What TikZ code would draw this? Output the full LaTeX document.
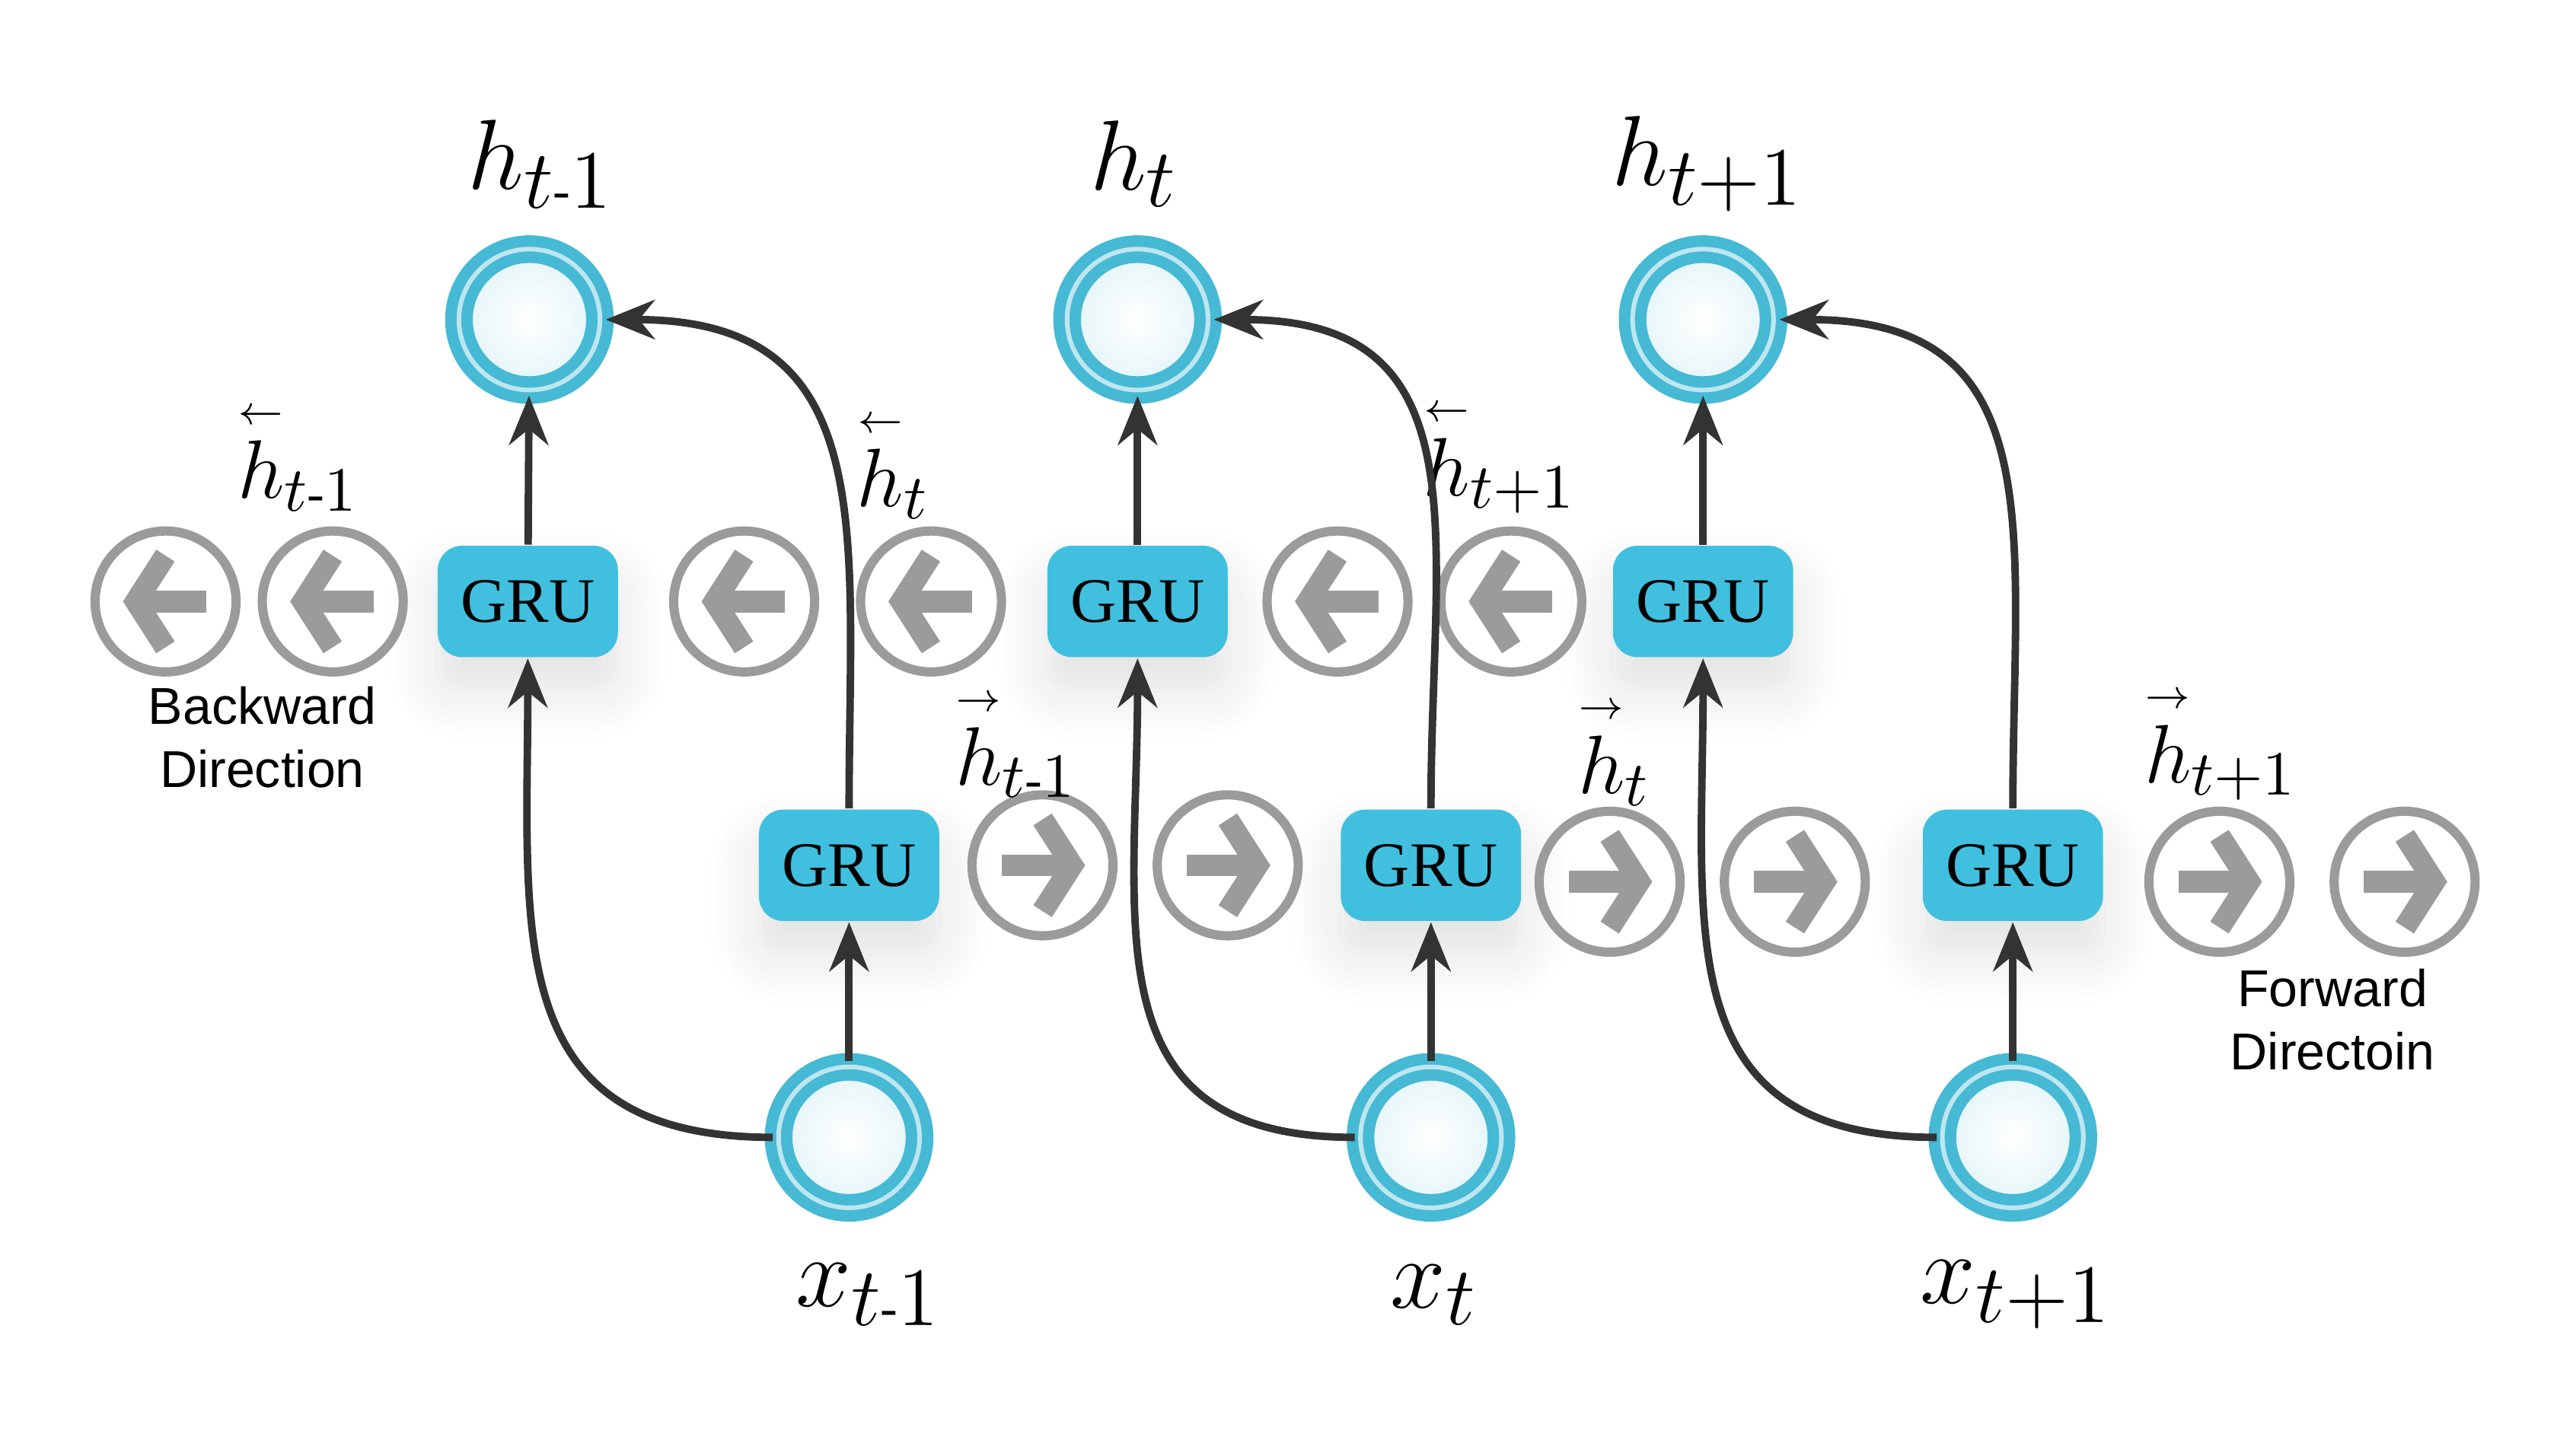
\documentclass[tikz,border=0pt]{standalone}
\usepackage{amsmath}
\usepackage{fontspec}
\setmainfont{Liberation Serif}
\newfontfamily\sansfont{Liberation Sans}
\usetikzlibrary{arrows.meta,shadows.blur}
\definecolor{grublue}{RGB}{64,192,222}
\definecolor{ringblue}{RGB}{70,185,212}
\definecolor{ringgray}{RGB}{155,155,155}
\newcommand{\mn}{\mbox{\fontsize{9}{9}\selectfont -}}
\newcommand{\lh}{\overset{\scriptscriptstyle\leftarrow}{h}}
\newcommand{\rh}{\overset{\scriptscriptstyle\rightarrow}{h}}
\begin{document}
\begin{tikzpicture}[x=1cm,y=-1cm]
    \tikzstyle{dedge} = [line width=1.3pt,-{Stealth[length=3mm,width=2.4mm]},draw=black!80]
    \tikzstyle{gru}=[
      rectangle,
      rounded corners=1.5mm,
      fill=grublue,
      minimum width=1.1cm,
      minimum height=0.68cm,
      font=\fontsize{11}{11}\selectfont,
      blur shadow={shadow xshift=0pt,shadow yshift=-2mm,shadow blur radius=3mm,shadow opacity=12,shadow blur steps=8},
    ]
    \tikzstyle{state}=[
      circle,
      minimum size=0.86cm,
      draw=ringblue,
      line width=2pt,
      double=ringblue!35,
      double distance=0.8pt,
      inner color=white,
      outer color=ringblue!15,
    ]
    \tikzstyle{hid}=[
      circle,
      minimum size=0.86cm,
      draw=ringgray,
      line width=1.6pt,
    ]
    \tikzstyle{chev}=[line width=3.8pt,draw=ringgray,line join=round,-{Straight Barb[length=1.8mm,width=5.6mm,line width=3.8pt]}]
    \tikzstyle{biglbl}=[font=\fontsize{19}{19}\selectfont]
    \tikzstyle{lbl}=[font=\fontsize{15}{15}\selectfont]
    \tikzstyle{dirlbl}=[font=\sansfont\fontsize{9}{11}\selectfont,align=center]

    \useasboundingbox (0,0) rectangle (15.6,8.884);

    % outputs
    \node[state] (h1) at (3.23,1.95) {};
    \node[state] (h2) at (6.94,1.95) {};
    \node[state] (h3) at (10.39,1.95) {};
    \node[biglbl] (lh1) at (3.30,1.00) {$h_{t\mn1}$};
    \node[biglbl] (lh2) at (6.92,1.00) {$h_{t}$};
    \node[biglbl] (lh3) at (10.42,1.00) {$h_{t+1}$};

    % inputs
    \node[state] (x1) at (5.18,6.94) {};
    \node[state] (x2) at (8.73,6.94) {};
    \node[state] (x3) at (12.28,6.94) {};
    \node[biglbl] (lx1) at (5.30,7.90) {$x_{t\mn1}$};
    \node[biglbl] (lx2) at (8.75,7.90) {$x_{t}$};
    \node[biglbl] (lx3) at (12.30,7.90) {$x_{t+1}$};

    % backward GRUs
    \node[gru] (gb1) at (3.22,3.67) {GRU};
    \node[gru] (gb2) at (6.94,3.67) {GRU};
    \node[gru] (gb3) at (10.39,3.67) {GRU};

    % forward GRUs
    \node[gru] (gf1) at (5.18,5.28) {GRU};
    \node[gru] (gf2) at (8.73,5.28) {GRU};
    \node[gru] (gf3) at (12.28,5.28) {GRU};

    % backward states
    \foreach \i/\x in {1/1.01,2/2.03,3/4.54,4/5.68,5/8.16,6/9.22} {
      \node[hid] (b\i) at (\x,3.67) {};
      \draw[chev] ([xshift=2.5mm]b\i.center) -- ([xshift=-2.6mm]b\i.center);
    }
    % forward states
    \foreach \i/\x/\y in {1/6.36/5.28,2/7.49/5.28,3/9.82/5.38,4/10.95/5.38,5/13.54/5.38,6/14.67/5.38} {
      \node[hid] (f\i) at (\x,\y) {};
      \draw[chev] ([xshift=-2.5mm]f\i.center) -- ([xshift=2.6mm]f\i.center);
    }

    \node[lbl] (lb1) at (1.82,2.78) {$\lh_{t\mn1}$};
    \node[lbl] (lb2) at (5.45,2.83) {$\lh_{t}$};
    \node[lbl] (lb3) at (9.15,2.78) {$\lh_{t+1}$};
    \node[lbl] (lf1) at (6.20,4.53) {$\rh_{t\mn1}$};
    \node[lbl] (lf2) at (9.85,4.58) {$\rh_{t}$};
    \node[lbl] (lf3) at (13.55,4.53) {$\rh_{t+1}$};

    \node[dirlbl] (bd) at (1.60,4.50) {Backward\\Direction};
    \node[dirlbl] (fd) at (14.23,6.22) {Forward\\Directoin};

    % connections
    \foreach \n in {1,2,3} {
      \draw[dedge] (gb\n) -- (h\n);
      \draw[dedge] (x\n) -- (gf\n);
      \draw[dedge] (gf\n.north) to[out=90,in=0,looseness=1.3] (h\n.east);
      \draw[dedge] (x\n.west) to[out=180,in=-90,looseness=1.3] (gb\n.south);
    }
\end{tikzpicture}
\end{document}
